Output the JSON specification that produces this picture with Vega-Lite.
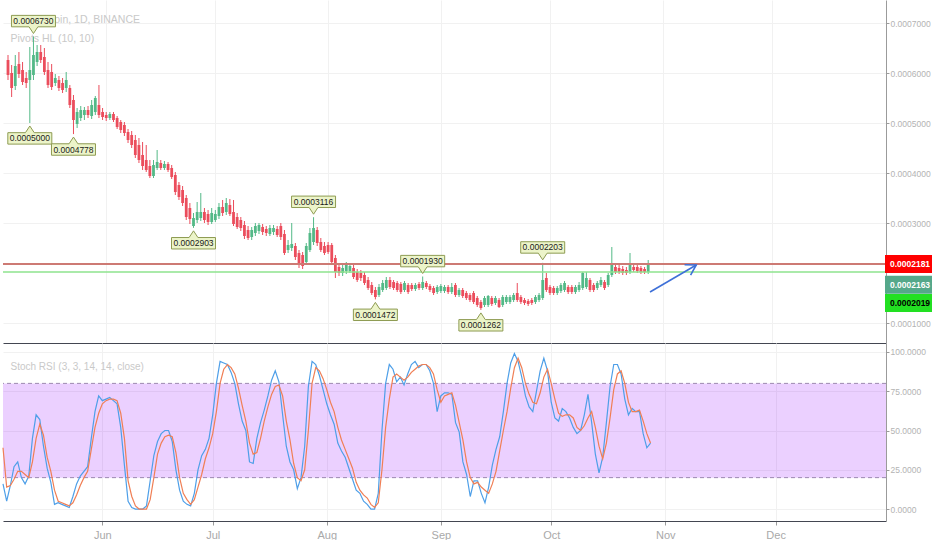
{
"$schema":"https://vega.github.io/schema/vega-lite/v6.json",
"padding":0,
"spacing":0,
"background":"#ffffff",
"config":{"view":{"stroke":null},"font":"Liberation Sans","axis":{"labelFont":"Liberation Sans"}},
"datasets":{
"candles":[
{"d":"2018-05-05","o":0.000626,"h":0.000636,"l":0.000586,"c":0.000596,"k":16,"s":39},
{"d":"2018-05-06","o":0.000600,"h":0.000616,"l":0.000552,"c":0.000570,"k":5,"s":14},
{"d":"2018-05-07","o":0.000574,"h":0.000636,"l":0.000566,"c":0.000614,"k":15,"s":15},
{"d":"2018-05-08","o":0.000618,"h":0.000642,"l":0.000590,"c":0.000598,"k":27,"s":19},
{"d":"2018-05-09","o":0.000606,"h":0.000622,"l":0.000576,"c":0.000582,"k":30,"s":24},
{"d":"2018-05-10","o":0.000590,"h":0.000602,"l":0.000570,"c":0.000580,"k":20,"s":24},
{"d":"2018-05-11","o":0.000586,"h":0.000652,"l":0.000500,"c":0.000606,"k":16,"s":22},
{"d":"2018-05-12","o":0.000596,"h":0.000673,"l":0.000586,"c":0.000636,"k":21,"s":20},
{"d":"2018-05-13","o":0.000622,"h":0.000656,"l":0.000614,"c":0.000642,"k":45,"s":30},
{"d":"2018-05-14","o":0.000642,"h":0.000656,"l":0.000620,"c":0.000626,"k":60,"s":45},
{"d":"2018-05-15","o":0.000632,"h":0.000650,"l":0.000596,"c":0.000602,"k":57,"s":54},
{"d":"2018-05-16","o":0.000606,"h":0.000622,"l":0.000570,"c":0.000576,"k":40,"s":47},
{"d":"2018-05-17","o":0.000602,"h":0.000618,"l":0.000566,"c":0.000572,"k":26,"s":33},
{"d":"2018-05-18","o":0.000580,"h":0.000598,"l":0.000574,"c":0.000590,"k":17,"s":24},
{"d":"2018-05-19","o":0.000586,"h":0.000594,"l":0.000564,"c":0.000570,"k":3,"s":12},
{"d":"2018-05-20","o":0.000580,"h":0.000590,"l":0.000560,"c":0.000566,"k":4,"s":5},
{"d":"2018-05-21","o":0.000570,"h":0.000602,"l":0.000562,"c":0.000586,"k":3,"s":4},
{"d":"2018-05-22","o":0.000570,"h":0.000576,"l":0.000530,"c":0.000536,"k":2,"s":3},
{"d":"2018-05-23","o":0.000546,"h":0.000556,"l":0.0004778,"c":0.000506,"k":1,"s":2},
{"d":"2018-05-24","o":0.000498,"h":0.000530,"l":0.000490,"c":0.000522,"k":8,"s":4},
{"d":"2018-05-25","o":0.000510,"h":0.000534,"l":0.000504,"c":0.000526,"k":16,"s":9},
{"d":"2018-05-26","o":0.000516,"h":0.000532,"l":0.000506,"c":0.000526,"k":21,"s":15},
{"d":"2018-05-27","o":0.000526,"h":0.000534,"l":0.000510,"c":0.000516,"k":24,"s":20},
{"d":"2018-05-28","o":0.000514,"h":0.000546,"l":0.000508,"c":0.000536,"k":27,"s":24},
{"d":"2018-05-29","o":0.000522,"h":0.000554,"l":0.000516,"c":0.000550,"k":45,"s":38},
{"d":"2018-05-30","o":0.000536,"h":0.000576,"l":0.000510,"c":0.000516,"k":62,"s":52},
{"d":"2018-05-31","o":0.000522,"h":0.000530,"l":0.000506,"c":0.000512,"k":72,"s":61},
{"d":"2018-06-01","o":0.000516,"h":0.000522,"l":0.000504,"c":0.000510,"k":69,"s":67},
{"d":"2018-06-02","o":0.000510,"h":0.000522,"l":0.000506,"c":0.000518,"k":70,"s":69},
{"d":"2018-06-03","o":0.000518,"h":0.000522,"l":0.000502,"c":0.000506,"k":71,"s":70},
{"d":"2018-06-04","o":0.000510,"h":0.000514,"l":0.000488,"c":0.000492,"k":69,"s":70},
{"d":"2018-06-05","o":0.000502,"h":0.000506,"l":0.000480,"c":0.000486,"k":67,"s":69},
{"d":"2018-06-06","o":0.000496,"h":0.000502,"l":0.000474,"c":0.000480,"k":52,"s":61},
{"d":"2018-06-07","o":0.000482,"h":0.000488,"l":0.000460,"c":0.000466,"k":28,"s":45},
{"d":"2018-06-08","o":0.000476,"h":0.000484,"l":0.000450,"c":0.000456,"k":5,"s":18},
{"d":"2018-06-09","o":0.000466,"h":0.000476,"l":0.000430,"c":0.000436,"k":1,"s":8},
{"d":"2018-06-10","o":0.000456,"h":0.000470,"l":0.000420,"c":0.000426,"k":0,"s":2},
{"d":"2018-06-11","o":0.000436,"h":0.000462,"l":0.000406,"c":0.000414,"k":0,"s":0},
{"d":"2018-06-12","o":0.000426,"h":0.000456,"l":0.000402,"c":0.000406,"k":0,"s":0},
{"d":"2018-06-13","o":0.000414,"h":0.000426,"l":0.000390,"c":0.000394,"k":2,"s":0},
{"d":"2018-06-14","o":0.000394,"h":0.000426,"l":0.000390,"c":0.000416,"k":18,"s":6},
{"d":"2018-06-15","o":0.000410,"h":0.000446,"l":0.000406,"c":0.000422,"k":34,"s":20},
{"d":"2018-06-16","o":0.000420,"h":0.000426,"l":0.000406,"c":0.000410,"k":43,"s":35},
{"d":"2018-06-17","o":0.000410,"h":0.000424,"l":0.000406,"c":0.000418,"k":48,"s":42},
{"d":"2018-06-18","o":0.000418,"h":0.000422,"l":0.000402,"c":0.000406,"k":50,"s":46},
{"d":"2018-06-19","o":0.000410,"h":0.000416,"l":0.000388,"c":0.000392,"k":50,"s":47},
{"d":"2018-06-20","o":0.000396,"h":0.000402,"l":0.000356,"c":0.000362,"k":43,"s":46},
{"d":"2018-06-21","o":0.000376,"h":0.000382,"l":0.000346,"c":0.000352,"k":25,"s":36},
{"d":"2018-06-22","o":0.000366,"h":0.000374,"l":0.000334,"c":0.000340,"k":12,"s":20},
{"d":"2018-06-23","o":0.000350,"h":0.000356,"l":0.000306,"c":0.000312,"k":5,"s":10},
{"d":"2018-06-24","o":0.000330,"h":0.000340,"l":0.000298,"c":0.000308,"k":3,"s":6},
{"d":"2018-06-25","o":0.000294,"h":0.000320,"l":0.0002903,"c":0.000310,"k":2,"s":3},
{"d":"2018-06-26","o":0.000306,"h":0.000342,"l":0.000300,"c":0.000322,"k":10,"s":6},
{"d":"2018-06-27","o":0.000310,"h":0.000360,"l":0.000304,"c":0.000322,"k":25,"s":14},
{"d":"2018-06-28","o":0.000322,"h":0.000330,"l":0.000300,"c":0.000306,"k":34,"s":22},
{"d":"2018-06-29","o":0.000318,"h":0.000326,"l":0.000296,"c":0.000302,"k":38,"s":32},
{"d":"2018-06-30","o":0.000302,"h":0.000330,"l":0.000298,"c":0.000320,"k":45,"s":39},
{"d":"2018-07-01","o":0.000306,"h":0.000326,"l":0.000302,"c":0.000318,"k":60,"s":48},
{"d":"2018-07-02","o":0.000314,"h":0.000340,"l":0.000308,"c":0.000332,"k":80,"s":62},
{"d":"2018-07-03","o":0.000332,"h":0.000346,"l":0.000314,"c":0.000320,"k":94,"s":80},
{"d":"2018-07-04","o":0.000322,"h":0.000350,"l":0.000316,"c":0.000340,"k":93,"s":89},
{"d":"2018-07-05","o":0.000336,"h":0.000348,"l":0.000314,"c":0.000318,"k":92,"s":92},
{"d":"2018-07-06","o":0.000322,"h":0.000346,"l":0.000294,"c":0.000298,"k":87,"s":90},
{"d":"2018-07-07","o":0.000312,"h":0.000320,"l":0.000288,"c":0.000292,"k":80,"s":86},
{"d":"2018-07-08","o":0.000306,"h":0.000312,"l":0.000284,"c":0.000290,"k":67,"s":77},
{"d":"2018-07-09","o":0.000296,"h":0.000304,"l":0.000268,"c":0.000274,"k":56,"s":66},
{"d":"2018-07-10","o":0.000286,"h":0.000294,"l":0.000266,"c":0.000270,"k":50,"s":56},
{"d":"2018-07-11","o":0.000272,"h":0.000292,"l":0.000266,"c":0.000286,"k":30,"s":42},
{"d":"2018-07-12","o":0.000280,"h":0.000300,"l":0.000274,"c":0.000294,"k":29,"s":35},
{"d":"2018-07-13","o":0.000284,"h":0.000300,"l":0.000278,"c":0.000296,"k":45,"s":36},
{"d":"2018-07-14","o":0.000292,"h":0.000298,"l":0.000276,"c":0.000282,"k":55,"s":45},
{"d":"2018-07-15","o":0.000288,"h":0.000294,"l":0.000274,"c":0.000280,"k":63,"s":56},
{"d":"2018-07-16","o":0.000278,"h":0.000296,"l":0.000274,"c":0.000290,"k":72,"s":65},
{"d":"2018-07-17","o":0.000282,"h":0.000296,"l":0.000276,"c":0.000290,"k":82,"s":73},
{"d":"2018-07-18","o":0.000288,"h":0.000294,"l":0.000272,"c":0.000276,"k":88,"s":78},
{"d":"2018-07-19","o":0.000294,"h":0.000300,"l":0.000266,"c":0.000272,"k":81,"s":79},
{"d":"2018-07-20","o":0.000278,"h":0.000286,"l":0.000236,"c":0.000240,"k":60,"s":72},
{"d":"2018-07-21","o":0.000246,"h":0.000266,"l":0.000240,"c":0.000256,"k":40,"s":56},
{"d":"2018-07-22","o":0.000250,"h":0.000300,"l":0.000244,"c":0.000258,"k":30,"s":44},
{"d":"2018-07-23","o":0.000254,"h":0.000260,"l":0.000226,"c":0.000232,"k":25,"s":29},
{"d":"2018-07-24","o":0.000240,"h":0.000246,"l":0.000210,"c":0.000216,"k":13,"s":20},
{"d":"2018-07-25","o":0.000236,"h":0.000242,"l":0.000208,"c":0.000214,"k":20,"s":18},
{"d":"2018-07-26","o":0.000222,"h":0.000260,"l":0.000216,"c":0.000254,"k":40,"s":25},
{"d":"2018-07-27","o":0.000246,"h":0.000290,"l":0.000242,"c":0.000280,"k":78,"s":50},
{"d":"2018-07-28","o":0.000262,"h":0.0003116,"l":0.000256,"c":0.000290,"k":94,"s":80},
{"d":"2018-07-29","o":0.000286,"h":0.000292,"l":0.000254,"c":0.000260,"k":92,"s":90},
{"d":"2018-07-30","o":0.000262,"h":0.000270,"l":0.000242,"c":0.000246,"k":85,"s":88},
{"d":"2018-07-31","o":0.000254,"h":0.000262,"l":0.000236,"c":0.000240,"k":76,"s":83},
{"d":"2018-08-01","o":0.000256,"h":0.000262,"l":0.000238,"c":0.000242,"k":67,"s":76},
{"d":"2018-08-02","o":0.000256,"h":0.000260,"l":0.000216,"c":0.000222,"k":60,"s":68},
{"d":"2018-08-03","o":0.000230,"h":0.000236,"l":0.000190,"c":0.000202,"k":54,"s":62},
{"d":"2018-08-04","o":0.000212,"h":0.000218,"l":0.000194,"c":0.000200,"k":42,"s":52},
{"d":"2018-08-05","o":0.000200,"h":0.000216,"l":0.000194,"c":0.000210,"k":37,"s":44},
{"d":"2018-08-06","o":0.000204,"h":0.000222,"l":0.000198,"c":0.000216,"k":33,"s":38},
{"d":"2018-08-07","o":0.000204,"h":0.000220,"l":0.000200,"c":0.000214,"k":26,"s":32},
{"d":"2018-08-08","o":0.000210,"h":0.000216,"l":0.000188,"c":0.000192,"k":19,"s":26},
{"d":"2018-08-09","o":0.000202,"h":0.000208,"l":0.000182,"c":0.000186,"k":12,"s":17},
{"d":"2018-08-10","o":0.000200,"h":0.000206,"l":0.000184,"c":0.000190,"k":10,"s":12},
{"d":"2018-08-11","o":0.000196,"h":0.000202,"l":0.000176,"c":0.000180,"k":5,"s":9},
{"d":"2018-08-12","o":0.000186,"h":0.000192,"l":0.000166,"c":0.000170,"k":3,"s":7},
{"d":"2018-08-13","o":0.000176,"h":0.000182,"l":0.000156,"c":0.000160,"k":0,"s":3},
{"d":"2018-08-14","o":0.000166,"h":0.000172,"l":0.0001472,"c":0.000152,"k":0,"s":1},
{"d":"2018-08-15","o":0.000156,"h":0.000178,"l":0.000152,"c":0.000172,"k":10,"s":4},
{"d":"2018-08-16","o":0.000166,"h":0.000186,"l":0.000162,"c":0.000180,"k":50,"s":25},
{"d":"2018-08-17","o":0.000170,"h":0.000192,"l":0.000166,"c":0.000186,"k":80,"s":52},
{"d":"2018-08-18","o":0.000186,"h":0.000192,"l":0.000168,"c":0.000172,"k":92,"s":70},
{"d":"2018-08-19","o":0.000182,"h":0.000186,"l":0.000166,"c":0.000170,"k":89,"s":84},
{"d":"2018-08-20","o":0.000180,"h":0.000184,"l":0.000162,"c":0.000166,"k":81,"s":86},
{"d":"2018-08-21","o":0.000178,"h":0.000182,"l":0.000158,"c":0.000162,"k":84,"s":84},
{"d":"2018-08-22","o":0.000166,"h":0.000184,"l":0.000162,"c":0.000180,"k":79,"s":82},
{"d":"2018-08-23","o":0.000176,"h":0.000180,"l":0.000158,"c":0.000162,"k":86,"s":84},
{"d":"2018-08-24","o":0.000176,"h":0.000180,"l":0.000164,"c":0.000168,"k":92,"s":87},
{"d":"2018-08-25","o":0.000168,"h":0.000180,"l":0.000164,"c":0.000176,"k":94,"s":89},
{"d":"2018-08-26","o":0.000178,"h":0.000182,"l":0.000166,"c":0.000170,"k":90,"s":91},
{"d":"2018-08-27","o":0.000170,"h":0.000193,"l":0.000166,"c":0.000182,"k":92,"s":92},
{"d":"2018-08-28","o":0.000180,"h":0.000184,"l":0.000168,"c":0.000172,"k":92,"s":92},
{"d":"2018-08-29","o":0.000174,"h":0.000178,"l":0.000162,"c":0.000166,"k":88,"s":90},
{"d":"2018-08-30","o":0.000170,"h":0.000174,"l":0.000156,"c":0.000160,"k":80,"s":86},
{"d":"2018-08-31","o":0.000162,"h":0.000176,"l":0.000158,"c":0.000172,"k":62,"s":76},
{"d":"2018-09-01","o":0.000164,"h":0.000178,"l":0.000160,"c":0.000174,"k":72,"s":68},
{"d":"2018-09-02","o":0.000164,"h":0.000176,"l":0.000160,"c":0.000172,"k":74,"s":72},
{"d":"2018-09-03","o":0.000172,"h":0.000176,"l":0.000158,"c":0.000162,"k":74,"s":73},
{"d":"2018-09-04","o":0.000162,"h":0.000180,"l":0.000158,"c":0.000172,"k":73,"s":74},
{"d":"2018-09-05","o":0.000176,"h":0.000180,"l":0.000152,"c":0.000156,"k":55,"s":66},
{"d":"2018-09-06","o":0.000156,"h":0.000170,"l":0.000152,"c":0.000166,"k":49,"s":55},
{"d":"2018-09-07","o":0.000166,"h":0.000170,"l":0.000150,"c":0.000154,"k":30,"s":44},
{"d":"2018-09-08","o":0.000160,"h":0.000164,"l":0.000146,"c":0.000150,"k":22,"s":30},
{"d":"2018-09-09","o":0.000156,"h":0.000160,"l":0.000142,"c":0.000146,"k":8,"s":20},
{"d":"2018-09-10","o":0.000160,"h":0.000164,"l":0.000138,"c":0.000142,"k":18,"s":16},
{"d":"2018-09-11","o":0.000150,"h":0.000154,"l":0.000132,"c":0.000136,"k":18,"s":17},
{"d":"2018-09-12","o":0.000142,"h":0.000146,"l":0.0001262,"c":0.000130,"k":10,"s":14},
{"d":"2018-09-13","o":0.000136,"h":0.000154,"l":0.000132,"c":0.000150,"k":4,"s":12},
{"d":"2018-09-14","o":0.000136,"h":0.000156,"l":0.000132,"c":0.000154,"k":14,"s":10},
{"d":"2018-09-15","o":0.000150,"h":0.000154,"l":0.000134,"c":0.000138,"k":28,"s":16},
{"d":"2018-09-16","o":0.000140,"h":0.000154,"l":0.000136,"c":0.000150,"k":38,"s":24},
{"d":"2018-09-17","o":0.000146,"h":0.000150,"l":0.000130,"c":0.000132,"k":46,"s":37},
{"d":"2018-09-18","o":0.000136,"h":0.000156,"l":0.000132,"c":0.000152,"k":62,"s":50},
{"d":"2018-09-19","o":0.000142,"h":0.000156,"l":0.000138,"c":0.000152,"k":80,"s":62},
{"d":"2018-09-20","o":0.000142,"h":0.000156,"l":0.000138,"c":0.000152,"k":93,"s":77},
{"d":"2018-09-21","o":0.000146,"h":0.000160,"l":0.000142,"c":0.000156,"k":99,"s":90},
{"d":"2018-09-22","o":0.000160,"h":0.000180,"l":0.000142,"c":0.000146,"k":94,"s":96},
{"d":"2018-09-23","o":0.000152,"h":0.000156,"l":0.000138,"c":0.000142,"k":84,"s":90},
{"d":"2018-09-24","o":0.000146,"h":0.000150,"l":0.000136,"c":0.000140,"k":72,"s":80},
{"d":"2018-09-25","o":0.000144,"h":0.000148,"l":0.000134,"c":0.000138,"k":65,"s":73},
{"d":"2018-09-26","o":0.000146,"h":0.000150,"l":0.000136,"c":0.000140,"k":62,"s":68},
{"d":"2018-09-27","o":0.000142,"h":0.000156,"l":0.000138,"c":0.000152,"k":75,"s":67},
{"d":"2018-09-28","o":0.000146,"h":0.000160,"l":0.000142,"c":0.000156,"k":88,"s":74},
{"d":"2018-09-29","o":0.000150,"h":0.0002203,"l":0.000146,"c":0.000186,"k":96,"s":84},
{"d":"2018-09-30","o":0.000190,"h":0.000200,"l":0.000162,"c":0.000166,"k":88,"s":89},
{"d":"2018-10-01","o":0.000172,"h":0.000176,"l":0.000156,"c":0.000160,"k":68,"s":80},
{"d":"2018-10-02","o":0.000170,"h":0.000174,"l":0.000156,"c":0.000160,"k":58,"s":70},
{"d":"2018-10-03","o":0.000160,"h":0.000174,"l":0.000156,"c":0.000170,"k":56,"s":61},
{"d":"2018-10-04","o":0.000164,"h":0.000180,"l":0.000160,"c":0.000176,"k":64,"s":59},
{"d":"2018-10-05","o":0.000166,"h":0.000184,"l":0.000162,"c":0.000180,"k":62,"s":60},
{"d":"2018-10-06","o":0.000172,"h":0.000176,"l":0.000158,"c":0.000162,"k":58,"s":60},
{"d":"2018-10-07","o":0.000172,"h":0.000176,"l":0.000158,"c":0.000162,"k":52,"s":58},
{"d":"2018-10-08","o":0.000162,"h":0.000176,"l":0.000158,"c":0.000172,"k":48,"s":52},
{"d":"2018-10-09","o":0.000166,"h":0.000182,"l":0.000162,"c":0.000176,"k":50,"s":50},
{"d":"2018-10-10","o":0.000170,"h":0.000202,"l":0.000166,"c":0.000200,"k":60,"s":53},
{"d":"2018-10-11","o":0.000172,"h":0.000202,"l":0.000168,"c":0.000190,"k":73,"s":58},
{"d":"2018-10-12","o":0.000186,"h":0.000190,"l":0.000162,"c":0.000166,"k":55,"s":62},
{"d":"2018-10-13","o":0.000176,"h":0.000180,"l":0.000162,"c":0.000166,"k":35,"s":52},
{"d":"2018-10-14","o":0.000170,"h":0.000184,"l":0.000166,"c":0.000180,"k":23,"s":40},
{"d":"2018-10-15","o":0.000176,"h":0.000192,"l":0.000172,"c":0.000186,"k":33,"s":32},
{"d":"2018-10-16","o":0.000182,"h":0.000186,"l":0.000166,"c":0.000170,"k":55,"s":42},
{"d":"2018-10-17","o":0.000176,"h":0.000200,"l":0.000172,"c":0.000196,"k":78,"s":58},
{"d":"2018-10-18","o":0.000196,"h":0.000252,"l":0.000192,"c":0.000220,"k":92,"s":76},
{"d":"2018-10-19","o":0.000212,"h":0.000218,"l":0.000198,"c":0.000202,"k":92,"s":86},
{"d":"2018-10-20","o":0.000210,"h":0.000216,"l":0.000198,"c":0.000202,"k":86,"s":88},
{"d":"2018-10-21","o":0.000208,"h":0.000214,"l":0.000196,"c":0.000200,"k":70,"s":80},
{"d":"2018-10-22","o":0.000206,"h":0.000212,"l":0.000196,"c":0.000200,"k":60,"s":68},
{"d":"2018-10-23","o":0.000202,"h":0.000240,"l":0.000198,"c":0.000220,"k":64,"s":62},
{"d":"2018-10-24","o":0.000212,"h":0.000218,"l":0.000202,"c":0.000206,"k":62,"s":62},
{"d":"2018-10-25","o":0.000212,"h":0.000216,"l":0.000200,"c":0.000204,"k":62,"s":63},
{"d":"2018-10-26","o":0.000210,"h":0.000214,"l":0.000198,"c":0.000202,"k":48,"s":56},
{"d":"2018-10-27","o":0.000208,"h":0.000212,"l":0.000198,"c":0.000202,"k":39,"s":48},
{"d":"2018-10-28","o":0.000202,"h":0.000226,"l":0.000198,"c":0.0002163,"k":42,"s":42}
],
"pivots":[
{"d":"2018-05-12","p":0.000673,"kind":"high"},
{"d":"2018-07-28","p":0.0003116,"kind":"high"},
{"d":"2018-08-27","p":0.000193,"kind":"high"},
{"d":"2018-09-29","p":0.0002203,"kind":"high"},
{"d":"2018-05-11","p":0.0005,"kind":"low"},
{"d":"2018-05-23","p":0.0004778,"kind":"low"},
{"d":"2018-06-25","p":0.0002903,"kind":"low"},
{"d":"2018-08-14","p":0.0001472,"kind":"low"},
{"d":"2018-09-12","p":0.0001262,"kind":"low"}
]
},
"vconcat":[
{
"width":883,"height":343,
"layer":[
{"data":{"name":"candles"},"mark":{"type":"rule","strokeWidth":1},
 "encoding":{
  "x":{"field":"d","type":"temporal","scale":{"type":"utc","domain":[{"year":2018,"month":5,"date":5,"utc":true},{"year":2018,"month":12,"date":31,"utc":true}]},
   "axis":{"orient":"bottom","labels":false,"ticks":false,"domain":true,"domainColor":"#434651","grid":true,"gridColor":"#f1f1f1",
    "values":[{"year":2018,"month":6,"date":1,"utc":true},{"year":2018,"month":7,"date":1,"utc":true},{"year":2018,"month":8,"date":1,"utc":true},{"year":2018,"month":9,"date":1,"utc":true},{"year":2018,"month":10,"date":1,"utc":true},{"year":2018,"month":11,"date":1,"utc":true},{"year":2018,"month":12,"date":1,"utc":true}],
    "title":["ICX / Bitcoin, 1D, BINANCE","Pivots HL (10, 10)"],"titleX":7,"titleY":-329,"titleAlign":"left","titleAnchor":"start","titleBaseline":"top","titleFont":"Liberation Sans","titleFontSize":10.5,"titleFontWeight":"normal","titleColor":"#c9c9c9","titleLineHeight":19}},
  "y":{"field":"l","type":"quantitative","title":null,"scale":{"domain":[0.00006,0.000746],"nice":false,"zero":false},
   "axis":{"orient":"right","values":[0.0001,0.0003,0.0004,0.0005,0.0006,0.0007],"format":".7f","title":null,"grid":true,"gridColor":"#f1f1f1","domainColor":"#9b9b9b","tickColor":"#9b9b9b","tickSize":3,"labelPadding":1,"labelColor":"#b3b3b3","labelFontSize":8.5}},
  "y2":{"field":"h"},
  "color":{"condition":{"test":"datum.c >= datum.o","value":"#53b987"},"value":"#eb4d5c"}}},
{"data":{"name":"candles"},"mark":{"type":"bar","width":2.8},
 "encoding":{
  "x":{"field":"d","type":"temporal"},
  "y":{"field":"o","type":"quantitative","title":null},
  "y2":{"field":"c"},
  "color":{"condition":{"test":"datum.c >= datum.o","value":"#53b987"},"value":"#eb4d5c"}}},
{"data":{"values":[{}]},"mark":{"type":"rule","color":"#cd7a74","strokeWidth":2},"encoding":{"y":{"datum":0.0002181}}},
{"data":{"values":[{}]},"mark":{"type":"rule","color":"#8ee38e","strokeWidth":1.5},"encoding":{"y":{"datum":0.0002019}}},
{"data":{"name":"pivots"},"transform":[{"filter":"datum.kind === 'high'"}],
 "mark":{"type":"point","shape":"M0,-0.136L-0.2,-0.44H-1V-0.96H1V-0.44H0.2Z","size":1936,"filled":true,"fill":"#ecf4c9","stroke":"#8e9b52","strokeWidth":1,"opacity":1},
 "encoding":{"x":{"field":"d","type":"temporal"},"y":{"field":"p","type":"quantitative","title":null}}},
{"data":{"name":"pivots"},"transform":[{"filter":"datum.kind === 'high'"}],
 "mark":{"type":"text","fontSize":8.5,"font":"Liberation Sans","color":"#1a1a1a","yOffset":-15.4,"baseline":"middle","align":"center"},
 "encoding":{"x":{"field":"d","type":"temporal"},"y":{"field":"p","type":"quantitative","title":null},"text":{"field":"p","type":"quantitative","format":".7f"}}},
{"data":{"name":"pivots"},"transform":[{"filter":"datum.kind === 'low'"}],
 "mark":{"type":"point","shape":"M0,0.136L-0.2,0.44H-1V0.96H1V0.44H0.2Z","size":1936,"filled":true,"fill":"#ecf4c9","stroke":"#8e9b52","strokeWidth":1,"opacity":1},
 "encoding":{"x":{"field":"d","type":"temporal"},"y":{"field":"p","type":"quantitative","title":null}}},
{"data":{"name":"pivots"},"transform":[{"filter":"datum.kind === 'low'"}],
 "mark":{"type":"text","fontSize":8.5,"font":"Liberation Sans","color":"#1a1a1a","yOffset":15.4,"baseline":"middle","align":"center"},
 "encoding":{"x":{"field":"d","type":"temporal"},"y":{"field":"p","type":"quantitative","title":null},"text":{"field":"p","type":"quantitative","format":".7f"}}},
{"data":{"values":[{"d":"2018-10-28T12:00:00Z","p":0.000162},{"d":"2018-11-10T05:00:00Z","p":0.000216}]},
 "mark":{"type":"line","color":"#3e70d8","strokeWidth":1.6},
 "encoding":{"x":{"field":"d","type":"temporal"},"y":{"field":"p","type":"quantitative","title":null}}},
{"data":{"values":[{"d":"2018-11-10T05:00:00Z","p":0.000216}]},
 "mark":{"type":"point","shape":"M-1,-0.6L0,0L-1,0.6","size":400,"filled":false,"stroke":"#3e70d8","strokeWidth":1.6,"angle":-30,"opacity":1},
 "encoding":{"x":{"field":"d","type":"temporal"},"y":{"field":"p","type":"quantitative","title":null}}},
{"data":{"values":[{}]},"mark":{"type":"point","shape":"M-1,-0.36H1V0.36H-1Z","size":2500,"filled":true,"fill":"#ff0000","strokeWidth":0,"opacity":1,"xOffset":24,"yOffset":0},
 "encoding":{"x":{"value":"width"},"y":{"datum":0.0002181}}},
{"data":{"values":[{}]},"mark":{"type":"text","xOffset":24,"yOffset":0,"fontSize":8.5,"fontWeight":"bold","font":"Liberation Sans","color":"#ffffff","align":"center","baseline":"middle"},
 "encoding":{"x":{"value":"width"},"y":{"datum":0.0002181},"text":{"value":"0.0002181"}}},
{"data":{"values":[{}]},"mark":{"type":"point","shape":"M-1,-0.36H1V0.36H-1Z","size":2500,"filled":true,"fill":"#55a88a","strokeWidth":0,"opacity":1,"xOffset":24,"yOffset":20},
 "encoding":{"x":{"value":"width"},"y":{"datum":0.0002163}}},
{"data":{"values":[{}]},"mark":{"type":"text","xOffset":24,"yOffset":20,"fontSize":8.5,"fontWeight":"bold","font":"Liberation Sans","color":"#ffffff","align":"center","baseline":"middle"},
 "encoding":{"x":{"value":"width"},"y":{"datum":0.0002163},"text":{"value":"0.0002163"}}},
{"data":{"values":[{}]},"mark":{"type":"point","shape":"M-1,-0.36H1V0.36H-1Z","size":2500,"filled":true,"fill":"#22e022","strokeWidth":0,"opacity":1,"xOffset":24,"yOffset":31},
 "encoding":{"x":{"value":"width"},"y":{"datum":0.0002019}}},
{"data":{"values":[{}]},"mark":{"type":"text","xOffset":24,"yOffset":31,"fontSize":8.5,"fontWeight":"bold","font":"Liberation Sans","color":"#000000","align":"center","baseline":"middle"},
 "encoding":{"x":{"value":"width"},"y":{"datum":0.0002019},"text":{"value":"0.0002019"}}}
]
},
{
"width":883,"height":178,
"layer":[
{"data":{"values":[{}]},"mark":{"type":"rect","color":"#9915ff","opacity":0.2},
 "encoding":{
  "x":{"datum":{"year":2018,"month":5,"date":5,"utc":true},"type":"temporal","scale":{"type":"utc","domain":[{"year":2018,"month":5,"date":5,"utc":true},{"year":2018,"month":12,"date":31,"utc":true}]},
   "axis":{"orient":"bottom","format":"%b","values":[{"year":2018,"month":6,"date":1,"utc":true},{"year":2018,"month":7,"date":1,"utc":true},{"year":2018,"month":8,"date":1,"utc":true},{"year":2018,"month":9,"date":1,"utc":true},{"year":2018,"month":10,"date":1,"utc":true},{"year":2018,"month":11,"date":1,"utc":true},{"year":2018,"month":12,"date":1,"utc":true}],
    "labelColor":"#a9a9a9","labelFontSize":11,"labelFont":"Liberation Sans","tickColor":"#9b9b9b","tickSize":4,"labelPadding":4,"domainColor":"#434651","grid":true,"gridColor":"#f1f1f1",
    "title":["Stoch RSI (3, 3, 14, 14, close)"],"titleX":7,"titleY":-160,"titleAlign":"left","titleAnchor":"start","titleBaseline":"top","titleFont":"Liberation Sans","titleFontSize":10,"titleFontWeight":"normal","titleColor":"#c9c9c9"}},
  "x2":{"datum":{"year":2018,"month":12,"date":31,"utc":true}},
  "y":{"datum":80,"type":"quantitative","title":null,"scale":{"domain":[-7.6,105.7],"nice":false,"zero":false},
   "axis":{"orient":"right","values":[0,25,50,75,100],"format":".4f","title":null,"grid":true,"gridColor":"#f1f1f1","domainColor":"#9b9b9b","tickColor":"#9b9b9b","tickSize":3,"labelPadding":1,"labelColor":"#b3b3b3","labelFontSize":8.5}},
  "y2":{"datum":20}}},
{"data":{"values":[{}]},"mark":{"type":"rule","color":"#9c88b0","strokeDash":[4,3],"strokeWidth":1},"encoding":{"y":{"datum":80}}},
{"data":{"values":[{}]},"mark":{"type":"rule","color":"#9c88b0","strokeDash":[4,3],"strokeWidth":1},"encoding":{"y":{"datum":20}}},
{"data":{"name":"candles"},"mark":{"type":"line","color":"#4e9fe8","strokeWidth":1.2},
 "encoding":{"x":{"field":"d","type":"temporal"},"y":{"field":"k","type":"quantitative","title":null}}},
{"data":{"name":"candles"},"mark":{"type":"line","color":"#f07f55","strokeWidth":1.2},
 "encoding":{"x":{"field":"d","type":"temporal"},"y":{"field":"s","type":"quantitative","title":null}}}
]
}
]
}
